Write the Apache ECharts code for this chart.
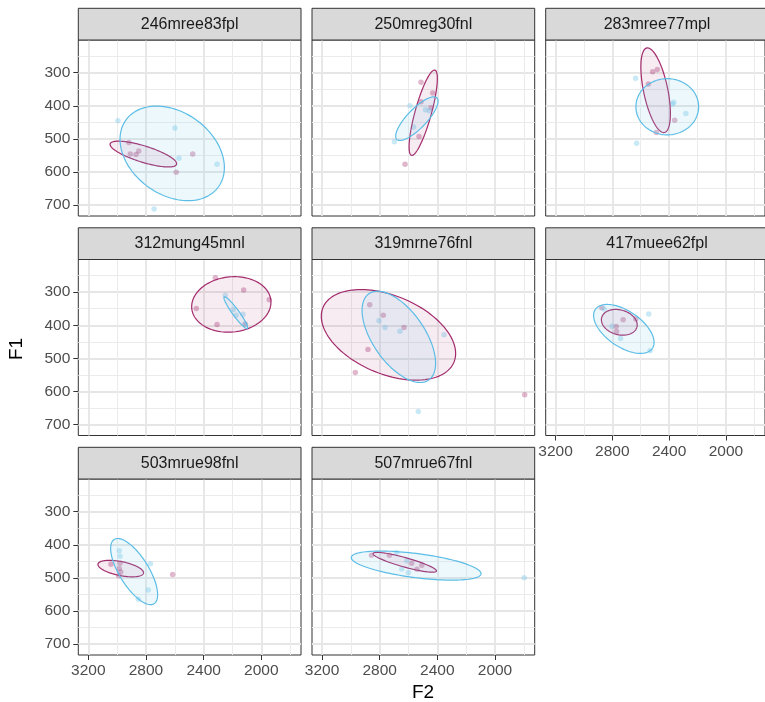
<!DOCTYPE html>
<html><head><meta charset="utf-8">
<script src="https://cdn.jsdelivr.net/npm/echarts@6/dist/echarts.min.js"></script>
<style>html,body{margin:0;padding:0;background:#fff}#chart{width:765px;height:702px}</style>
</head><body><div id="chart"></div>
<script>
// ---------------- data ----------------
const panelNames = ['246mree83fpl','250mreg30fnl','283mree77mpl','312mung45mnl','319mrne76fnl','417muee62fpl','503mrue98fnl','507mrue67fnl'];
const xTicks = [3200, 2800, 2400, 2000];
const xMinorTicks = [3000, 2600, 2200, 1800];
const yTicks = [300, 400, 500, 600, 700];
const yMinorTicks = [250, 350, 450, 550, 650];
const xRange = [1724.6, 3269.4];
const yRange = [201.1, 733.3];

// points [F2, F1]
const pinkPoints = [
  [[2918,511],[2909,546],[2869,547],[2850,537],[2476,546],[2590,601]],
  [[2513,329],[2432,361],[2513,388],[2444,406],[2527,493],[2624,577]],
  [[2516,297],[2483,290],[2546,334],[2361,444],[2490,481]],
  [[2319,256],[2122,293],[1945,323],[2451,349],[2307,398],[2113,396]],
  [[2869,338],[2775,370],[2631,407],[2881,473],[2969,543],[1794,610]],
  [[2874,347],[2724,383],[2634,381],[2773,404],[2770,419]],
  [[3043,459],[2980,456],[2985,472],[2975,482],[2990,494],[2615,490]],
  [[2857,432],[2733,432],[2578,456],[2508,462],[2541,474]]
];
const bluePoints = [
  [[2994,445],[2599,467],[2571,559],[2307,577],[2744,712]],
  [[2590,400],[2482,412],[2456,415],[2564,464],[2698,509]],
  [[2636,317],[2368,389],[2375,395],[2282,423],[2629,513]],
  [[2250,309],[2194,352],[2175,370],[2127,367],[2111,397]],
  [[2805,386],[2763,407],[2659,418],[2354,429],[2532,661]],
  [[2858,351],[2544,366],[2803,403],[2742,440],[2534,477]],
  [[2985,418],[2980,435],[2769,457],[2784,537],[2853,565]],
  [[2682,423],[2612,448],[2647,473],[2601,484],[1797,500]]
];
// ellipses: [centre F2, centre F1, half-width F2, half-height F1, tilt k]
const pinkEllipses = [
  [2818, 546, 231, 39, -0.75],
  [2498, 421, 98, 129, 0.8],
  [2495, 353, 104, 128, -0.55],
  [2208, 337, 275, 84, 0.08],
  [2739, 429, 466, 137, -0.41],
  [2751, 391, 126, 39, -0.2],
  [2975, 472, 158, 25, -0.5],
  [2626, 453, 220, 30, -0.87]
];
const blueEllipses = [
  [2618, 544, 362, 143, -0.3],
  [2542, 439, 147, 66, 0.8],
  [2413, 403, 221, 85, 0.0],
  [2177, 362, 82, 48, -0.94],
  [2667, 435, 255, 138, -0.58],
  [2719, 411, 213, 74, -0.55],
  [2882, 481, 163, 100, -0.7],
  [2547, 463, 450, 44, -0.55]
];

// ---------------- layout / style ----------------
const pinkCol = '#A3296B', blueCol = '#5BBDE6';
const colLeft = [78.3, 312, 545.7], panelW = 222.7;
const rowTop = [40, 259.5, 479], panelH = 176, stripH = 31.7;
const font = 'Liberation Sans, Arial, Helvetica, sans-serif';

function ellipsePath(e) {
  const [cx, cy, rx, ry, k] = e;
  const phi = Math.acos(k);
  const out = [];
  for (let i = 0; i < 120; i++) {
    const t = i / 120 * Math.PI * 2;
    out.push([cx + rx * Math.cos(t), cy + ry * Math.cos(t + phi)]);
  }
  return out;
}

const grid = [], xAxis = [], yAxis = [], series = [], graphic = [];
const plain = v => String(v);
panelNames.forEach((name, i) => {
  const c = i % 3, r = Math.floor(i / 3);
  grid.push({left: colLeft[c], top: rowTop[r], width: panelW, height: panelH,
    show: true, backgroundColor: '#fff', borderColor: '#333333', borderWidth: 1, containLabel: false});
  const showX = (i >= 5), showY = (c === 0);
  const tickStyle = {color: '#333333', width: 1};
  xAxis.push({gridIndex: i, type: 'value', min: xRange[0], max: xRange[1], inverse: true, position: 'bottom',
    axisLine: {show: false},
    axisTick: {show: showX, customValues: xTicks, length: 5, lineStyle: tickStyle},
    axisLabel: {show: showX, customValues: xTicks, formatter: plain, color: '#4d4d4d', fontSize: 15.5, fontFamily: font, margin: 8},
    splitLine: {show: true, lineStyle: {color: '#e6e6e6', width: 1.8}}});
  xAxis.push({gridIndex: i, type: 'value', min: xRange[0], max: xRange[1], inverse: true, position: 'top',
    axisLine: {show: false}, axisTick: {show: false, customValues: xMinorTicks}, axisLabel: {show: false},
    splitLine: {show: true, lineStyle: {color: '#ebebeb', width: 1}}});
  yAxis.push({gridIndex: i, type: 'value', min: yRange[0], max: yRange[1], inverse: true, position: 'left',
    axisLine: {show: false},
    axisTick: {show: showY, customValues: yTicks, length: 5, lineStyle: tickStyle},
    axisLabel: {show: showY, customValues: yTicks, formatter: plain, color: '#4d4d4d', fontSize: 15.5, fontFamily: font, margin: 8},
    splitLine: {show: true, lineStyle: {color: '#e6e6e6', width: 1.8}}});
  yAxis.push({gridIndex: i, type: 'value', min: yRange[0], max: yRange[1], inverse: true, position: 'right',
    axisLine: {show: false}, axisTick: {show: false, customValues: yMinorTicks}, axisLabel: {show: false},
    splitLine: {show: true, lineStyle: {color: '#ebebeb', width: 1}}});

  const xi = 2 * i, yi = 2 * i;
  series.push({type: 'scatter', xAxisIndex: xi, yAxisIndex: yi, data: pinkPoints[i], symbolSize: 5.5,
    itemStyle: {color: 'rgba(163,41,107,0.42)'}, silent: true, z: 2});
  series.push({type: 'scatter', xAxisIndex: xi, yAxisIndex: yi, data: bluePoints[i], symbolSize: 5.5,
    itemStyle: {color: 'rgba(120,200,235,0.5)'}, silent: true, z: 2});
  [[pinkEllipses[i], pinkCol, 'rgba(163,41,107,0.09)'], [blueEllipses[i], blueCol, 'rgba(135,206,235,0.15)']].forEach(([e, stroke, fill]) => {
    const path = ellipsePath(e);
    series.push({type: 'custom', xAxisIndex: xi, yAxisIndex: yi, silent: true, z: 3,
      data: [[e[0], e[1]]],
      renderItem: (params, api) => ({type: 'polygon', shape: {points: path.map(p => api.coord(p))},
        style: {fill: fill, stroke: stroke, lineWidth: 1.2}})});
  });

  graphic.push({type: 'rect', shape: {x: colLeft[c], y: rowTop[r] - stripH, width: panelW, height: stripH},
    style: {fill: '#d9d9d9', stroke: '#333333', lineWidth: 1}, z: 10});
  graphic.push({type: 'text', x: colLeft[c] + panelW / 2, y: rowTop[r] - stripH / 2,
    style: {text: name, fill: '#1a1a1a', font: '16px ' + font, textAlign: 'center', textVerticalAlign: 'middle'}, z: 11});
});
graphic.push({type: 'text', x: 423, y: 693, style: {text: 'F2', fill: '#000', font: '19px ' + font, textAlign: 'center', textVerticalAlign: 'middle'}});
graphic.push({type: 'text', x: 17, y: 349, rotation: Math.PI / 2, style: {text: 'F1', fill: '#000', font: '19px ' + font, textAlign: 'center', textVerticalAlign: 'middle'}});

const chart = echarts.init(document.getElementById('chart'), null, {renderer: 'canvas'});
chart.setOption({animation: false, backgroundColor: '#fff', grid, xAxis, yAxis, series, graphic});
</script></body></html>
